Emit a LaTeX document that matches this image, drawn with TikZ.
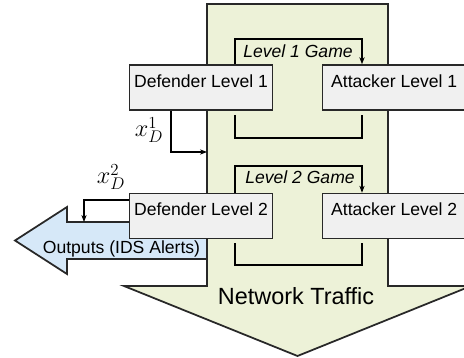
\documentclass[tikz,border=0pt]{standalone}
\usepackage{fontspec}
\setmainfont{Liberation Sans}
\usetikzlibrary{arrows.meta}
\usetikzlibrary{positioning}

\definecolor{trafficgreen}{RGB}{237,242,216}
\definecolor{alertblue}{RGB}{214,232,248}
\definecolor{boxgray}{RGB}{240,240,240}
\definecolor{edgegray}{RGB}{40,40,40}

\tikzstyle{player} = [rectangle, draw=edgegray, fill=boxgray, line width=1.3pt, minimum width=4.3cm, inner xsep=0pt, inner ysep=0pt, text height=0.66cm, text depth=0.69cm, font=\fontsize{15}{18}\selectfont]
\tikzstyle{flow} = [draw=edgegray, line width=1.5pt]
\tikzstyle{game} = [draw=black, line width=2.1pt]
\tikzstyle{arrow} = [line width=1.7pt,-{Stealth[length=6pt,width=4.5pt]}]
\tikzstyle{caption} = [anchor=base, inner sep=0pt, font=\fontsize{15}{18}\selectfont]

\begin{document}
\begin{tikzpicture}[x=0.03cm,y=-0.03cm]
\path[use as bounding box, clip] (0,0) rectangle (464,358);

% traffic flowing down and alerts going out to the left
\draw[flow, fill=trafficgreen] (207,4) -- (388,4) -- (388,286) -- (471,286) -- (297.5,356) -- (124,286) -- (207,286) -- cycle;
\draw[flow, fill=alertblue] (207,222) -- (67,222) -- (67,207) -- (15,240.5) -- (67,274) -- (67,259) -- (207,259) -- cycle;

\node (traffic) [caption, font=\fontsize{20}{24}\selectfont] at (296,304) {Network Traffic};
\node (alerts) [caption] at (121.5,253.5) {Outputs (IDS Alerts)};

% players
\node (def1) [player] at (201,87.5) {Defender Level 1};
\node (att1) [player, right=1.45cm of def1] {Attacker Level 1};
\node (def2) [player, below=2.46cm of def1] {Defender Level 2};
\node (att2) [player, right=1.45cm of def2] {Attacker Level 2};

% game loops
\coordinate (l1) at (235,39);
\coordinate (r1) at (362,39);
\coordinate (l1b) at (235,138);
\coordinate (r1b) at (362,138);
\coordinate (l2) at (235,166);
\coordinate (r2) at (362,166);
\coordinate (l2b) at (235,265);
\coordinate (r2b) at (362,265);

\draw [game, -{Stealth[length=6pt,width=4.5pt]}] (def1.north -| l1) -- (l1) -- (r1) -- (att1.north -| r1);
\draw [game, shorten <=0.12cm, shorten >=0.12cm] (def1.south -| l1b) -- (l1b) -- (r1b) -- (att1.south -| r1b);
\draw [game, -{Stealth[length=6pt,width=4.5pt]}] (def2.north -| l2) -- (l2) -- (r2) -- (att2.north -| r2);
\draw [game, shorten <=0.12cm, shorten >=0.12cm] (def2.south -| l2b) -- (l2b) -- (r2b) -- (att2.south -| r2b);

\node (game1) [caption, font=\fontsize{15}{18}\selectfont\itshape] at (298,57) {Level 1 Game};
\node (game2) [caption, font=\fontsize{15}{18}\selectfont\itshape] at (300,183) {Level 2 Game};

% defender outputs
\coordinate (in1) at (207,152);
\coordinate (out2) at (84,222);
\draw [arrow] ([xshift=-0.9cm]def1.south) |- (in1);
\draw [arrow] ([yshift=0.48cm]def2.west) -| (out2);

\node (xd1) [font=\fontsize{20}{24}\selectfont] at (149,130) {$x_D^1$};
\node (xd2) [font=\fontsize{20}{24}\selectfont] at (111,177) {$x_D^2$};

\end{tikzpicture}
\end{document}
